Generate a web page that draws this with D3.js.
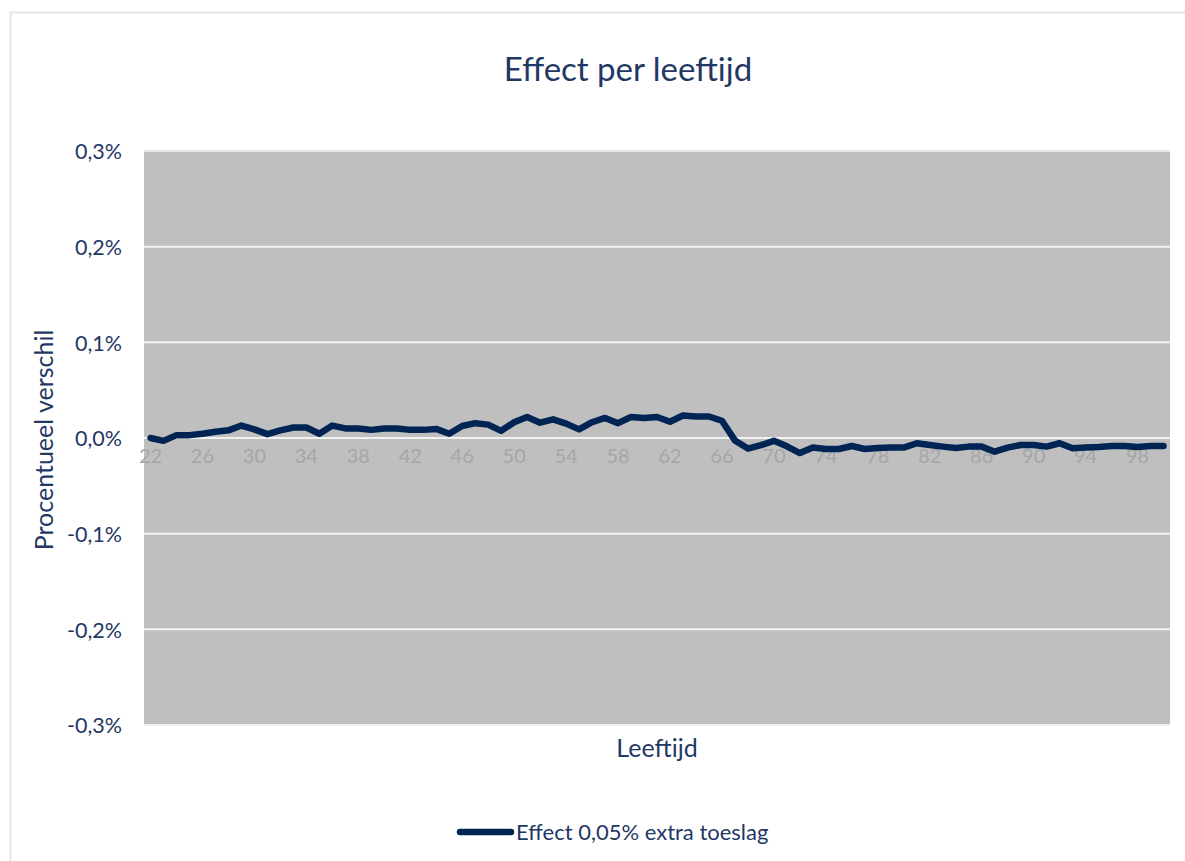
<!DOCTYPE html>
<html>
<head>
<meta charset="utf-8">
<script src="https://cdn.jsdelivr.net/npm/d3@7"></script>
<style>
  body { margin: 0; background: #fff; }
  text { font-family: Lato, "Open Sans", sans-serif; }
</style>
</head>
<body>
<svg id="chart" width="1185" height="861"></svg>
<script>
(function() {

  // ages 22..100
  var ages = [22,23,24,25,26,27,28,29,30,31,32,33,34,35,36,37,38,39,40,
    41,42,43,44,45,46,47,48,49,50,51,52,53,54,55,56,57,58,59,60,
    61,62,63,64,65,66,67,68,69,70,71,72,73,74,75,76,77,78,79,80,
    81,82,83,84,85,86,87,88,89,90,91,92,93,94,95,96,97,98,99,100];

  // effect in percent
  var effect = [0.000,-0.003,0.003,0.003,0.0045,0.0066,0.008,0.013,0.009,0.004,
    0.008,0.011,0.011,0.0045,0.013,0.010,0.010,0.0085,0.010,0.010,
    0.0085,0.0085,0.0095,0.0045,0.0125,0.0155,0.014,0.0075,0.0165,0.022,
    0.016,0.0195,0.015,0.009,0.0165,0.021,0.0155,0.022,0.021,0.022,
    0.017,0.0235,0.0225,0.0225,0.018,-0.0025,-0.011,-0.0075,-0.003,-0.0087,
    -0.0157,-0.010,-0.0115,-0.0115,-0.0084,-0.0115,-0.0105,-0.010,-0.010,-0.0055,
    -0.0073,-0.009,-0.0105,-0.009,-0.009,-0.0143,-0.010,-0.0073,-0.0073,-0.009,
    -0.0055,-0.0108,-0.010,-0.0095,-0.0084,-0.0084,-0.0095,-0.0084,-0.0084];

  var yTicks = [-0.3,-0.2,-0.1,0,0.1,0.2,0.3];
  var xLabelAges = [22,26,30,34,38,42,46,50,54,58,62,66,70,74,78,82,86,90,94,98];

  var navy = '#1f3864';
  var lineColor = '#002555';

  var svg = d3.select('#chart');
  var left = 144, right = 1170, top = 151, bottom = 725;

  // outer chart border
  svg.append('rect')
    .attr('x', 10.5).attr('y', 12.5)
    .attr('width', 1200).attr('height', 900)
    .attr('fill', 'none')
    .attr('stroke', '#e6e6e6')
    .attr('stroke-width', 2);

  var x = d3.scaleBand()
    .domain(ages)
    .range([left, right]);

  var y = d3.scaleLinear()
    .domain([-0.3, 0.3])
    .range([bottom, top]);

  // plot background
  svg.append('rect')
    .attr('x', left).attr('y', top)
    .attr('width', right - left).attr('height', bottom - top)
    .attr('fill', '#bfbfbf');

  // gridlines
  svg.append('g')
    .selectAll('line')
    .data(yTicks)
    .enter().append('line')
    .attr('x1', left).attr('x2', right)
    .attr('y1', function(d) { return y(d); })
    .attr('y2', function(d) { return y(d); })
    .attr('stroke', function(d) { return d === 0.3 ? '#e6e6e6' : '#f2f2f2'; })
    .attr('stroke-width', 2);

  // y axis labels
  var yAxis = d3.axisLeft(y)
    .tickValues(yTicks)
    .tickSize(0)
    .tickPadding(22)
    .tickFormat(function(d) { return d3.format('.1f')(d).replace('.', ',').replace('−', '-') + '%'; });

  var gy = svg.append('g')
    .attr('transform', 'translate(' + left + ',0)')
    .call(yAxis);
  gy.select('.domain').remove();
  gy.selectAll('text')
    .attr('fill', navy)
    .attr('dy', '0.36em')
    .style('font-size', '21.5px');

  // x axis labels, sitting just under the zero line
  var xAxis = d3.axisBottom(x)
    .tickValues(xLabelAges)
    .tickSize(0)
    .tickPadding(11);

  var gx = svg.append('g')
    .attr('transform', 'translate(0,' + y(0) + ')')
    .call(xAxis);
  gx.select('.domain').remove();
  gx.selectAll('text')
    .attr('fill', '#a6a6a6')
    .style('font-size', '20px');

  // line
  var line = d3.line()
    .x(function(d, i) { return x(ages[i]) + x.bandwidth() / 2; })
    .y(function(d) { return y(d); });

  svg.append('path')
    .datum(effect)
    .attr('d', line)
    .attr('fill', 'none')
    .attr('stroke', lineColor)
    .attr('stroke-width', 6.5)
    .attr('stroke-linejoin', 'round')
    .attr('stroke-linecap', 'round');

  // title
  svg.append('text')
    .attr('x', 628).attr('y', 81)
    .attr('text-anchor', 'middle')
    .attr('fill', navy)
    .style('font-size', '33px')
    .text('Effect per leeftijd');

  // axis titles
  svg.append('text')
    .attr('transform', 'translate(53,' + ((top + bottom) / 2 + 2) + ') rotate(-90)')
    .attr('text-anchor', 'middle')
    .attr('fill', navy)
    .style('font-size', '25px')
    .text('Procentueel verschil');

  svg.append('text')
    .attr('x', (left + right) / 2)
    .attr('y', 757)
    .attr('text-anchor', 'middle')
    .attr('fill', navy)
    .style('font-size', '25px')
    .text('Leeftijd');

  // legend
  var legend = svg.append('g').attr('transform', 'translate(0,832)');
  legend.append('line')
    .attr('x1', 460).attr('x2', 511)
    .attr('y1', 0).attr('y2', 0)
    .attr('stroke', lineColor)
    .attr('stroke-width', 6.5)
    .attr('stroke-linecap', 'round');
  legend.append('text')
    .attr('x', 516).attr('y', 8)
    .attr('fill', navy)
    .style('font-size', '22px')
    .text('Effect 0,05% extra toeslag');

})();
</script>
</body>
</html>
